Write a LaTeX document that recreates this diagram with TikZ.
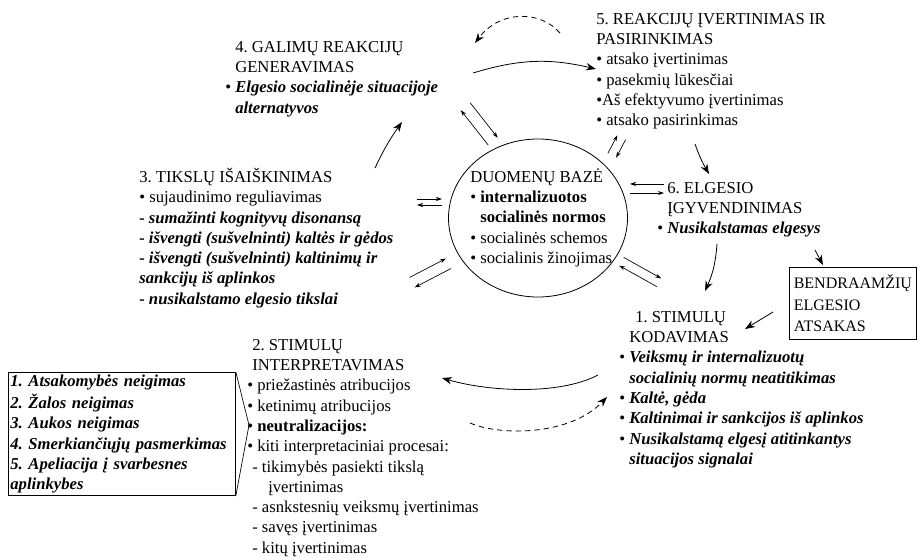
\documentclass[tikz,border=0pt]{standalone}
\usepackage{fontspec}
\setmainfont{Liberation Serif}
\usetikzlibrary{arrows.meta, shapes.geometric, calc}
\frenchspacing

\newcommand{\bul}{\textbullet\ }
\newcommand{\sk}{\hphantom{\textbullet\ }}
\newcommand{\bi}[1]{\textbf{\textit{#1}}}

\tikzset{
  txt/.style={anchor=north west, align=left, inner sep=0pt,
    font=\fontsize{12.5}{15.2}\selectfont},
  boxed/.style={txt, draw, line width=0.6pt},
  big/.style={-{Stealth[length=7.5pt,width=5.5pt]}, line width=0.6pt},
  small/.style={-{Stealth[length=4.5pt,width=3pt]}, line width=0.5pt},
  dsh/.style={dash pattern=on 4pt off 3pt},
}

% two opposite arrows between #1 and #2, #3 = half gap
\newcommand{\twoway}[3]{%
  \draw[small] ($(#1)!#3!90:(#2)$) -- ($(#2)!#3!-90:(#1)$);
  \draw[small] ($(#2)!#3!90:(#1)$) -- ($(#1)!#3!-90:(#2)$);}

\begin{document}
\begin{tikzpicture}[x=0.75pt, y=-0.75pt]
        \useasboundingbox (0, 0) rectangle (921, 557);

        % database in the middle
        \node[draw, ellipse, line width=0.6pt, minimum width=134.25pt, minimum height=118.5pt, inner sep=0pt] (db) at (538, 218) {};
        \node[txt] (dbtxt) at (470, 168) {\strut DUOMENŲ BAZĖ\\
          \bul\textbf{internalizuotos}\\
          \sk\textbf{socialinės normos}\\
          \bul socialinės schemos\\
          \bul socialinis žinojimas};

        % the six steps
        \node[txt] (b4) at (225, 38) {\strut\sk 4. GALIMŲ REAKCIJŲ\\
          \sk GENERAVIMAS\\
          \bul\bi{Elgesio socialinėje situacijoje}\\
          \sk\bi{alternatyvos}};
        \node[txt] (b5) at (596, 10) {\strut 5. REAKCIJŲ ĮVERTINIMAS IR\\
          PASIRINKIMAS\\
          \bul atsako įvertinimas\\
          \bul pasekmių lūkesčiai\\
          \textbullet Aš efektyvumo įvertinimas\\
          \bul atsako pasirinkimas};
        \node[txt] (b6) at (657, 179) {\strut\sk 6. ELGESIO\\
          \sk ĮGYVENDINIMAS\\
          \bul\bi{Nusikalstamas elgesys}};
        \node[txt] (b3) at (139, 168) {\strut 3. TIKSLŲ IŠAIŠKINIMAS\\
          \bul sujaudinimo reguliavimas\\
          \bi{- sumažinti kognityvų disonansą}\\
          \bi{- išvengti (sušvelninti) kaltės ir gėdos}\\
          \bi{- išvengti (sušvelninti) kaltinimų ir}\\
          \bi{sankcijų iš aplinkos}\\
          \bi{- nusikalstamo elgesio tikslai}};
        \node[txt] (b2) at (247, 336) {\strut\hspace*{3.75pt}2. STIMULŲ\\
          \hspace*{3.75pt}INTERPRETAVIMAS\\
          \bul priežastinės atribucijos\\
          \bul ketinimų atribucijos\\
          \bul\textbf{neutralizacijos:}\\
          \bul kiti interpretaciniai procesai:\\
          \hspace*{3.75pt}- tikimybės pasiekti tikslą\\
          \hspace*{15.75pt}įvertinimas\\
          \hspace*{3.75pt}- asnkstesnių veiksmų įvertinimas\\
          \hspace*{3.75pt}- savęs įvertinimas\\
          \hspace*{3.75pt}- kitų įvertinimas};
        \node[txt] (b1) at (619, 308) {\strut\hspace*{12pt}1. STIMULŲ\\
          \sk KODAVIMAS\\
          \bul\bi{Veiksmų ir internalizuotų}\\
          \sk\bi{socialinių normų neatitikimas}\\
          \bul\bi{Kaltė, gėda}\\
          \bul\bi{Kaltinimai ir sankcijos iš aplinkos}\\
          \bul\bi{Nusikalstamą elgesį atitinkantys}\\
          \sk\bi{situacijos signalai}};

        % boxes
        \node[boxed, font=\fontsize{12}{16.1}\selectfont, inner xsep=2pt, minimum width=95.25pt, minimum height=54pt] (peer) at (789, 267) {BENDRAAMŽIŲ\\ELGESIO\\ATSAKAS};
        \node[boxed, inner xsep=1.5pt, text width=167.25pt] (neut) at (8, 372) {\strut\bi{1. Atsakomybės neigimas}\\
          \bi{2. Žalos neigimas}\\
          \bi{3. Aukos neigimas}\\
          \bi{4. Smerkiančiųjų pasmerkimas}\\
          \bi{5. Apeliacija į svarbesnes}\\
          \bi{aplinkybes}\strut};

        \coordinate (apex) at (249, 425);
        \draw[line width=0.5pt] (neut.north east) -- (apex) -- (neut.south east);

        % arrows between the steps
        \coordinate (s34) at (375, 168);  \coordinate (e34) at (402, 122);
        \coordinate (s45) at (473, 73);   \coordinate (e45) at (596, 69);
        \coordinate (s54) at (560, 33);   \coordinate (e54) at (475, 43);
        \coordinate (s56) at (695, 144);  \coordinate (e56) at (709, 174);
        \coordinate (s61) at (717, 244);  \coordinate (e61) at (705, 291);
        \coordinate (s6p) at (815, 250);  \coordinate (e6p) at (823, 265);
        \coordinate (sp1) at (773, 312);  \coordinate (ep1) at (745, 329);
        \coordinate (s12) at (598, 375);  \coordinate (e12) at (442, 378);
        \coordinate (s21) at (470, 423);  \coordinate (e21) at (607, 397);

        \draw[big] (s34) to[bend left=5] (e34);
        \draw[big] (s45) to[bend left=15] (e45);
        \draw[big, dsh] (s54) .. controls (540, 10) and (500, 10) .. (e54);
        \draw[big] (s56) to[bend right=5] (e56);
        \draw[big] (s61) to[bend left=10] (e61);
        \draw[big] (s6p) -- (e6p);
        \draw[big] (sp1) -- (ep1);
        \draw[big] (s12) .. controls (560, 395) and (490, 392) .. (e12);
        \draw[big, dsh] (s21) .. controls (500, 436) and (570, 436) .. (e21);

        % arrows to and from the database
        \coordinate (d4) at (493, 141.5);   \coordinate (p4) at (465.5, 106.5);
        \coordinate (d5) at (612, 155.5);   \coordinate (p5) at (621.5, 137.5);
        \coordinate (d6) at (630, 188.5);   \coordinate (p6) at (664, 188.5);
        \coordinate (d1) at (621.5, 261.5); \coordinate (p1) at (659, 282.5);
        \coordinate (d3) at (442, 202);     \coordinate (p3) at (417, 202);
        \coordinate (d3b) at (448.5, 263.5); \coordinate (p3b) at (412, 282.5);

        \twoway{d4}{p4}{4.5pt}
        \twoway{d5}{p5}{3.5pt}
        \twoway{d6}{p6}{-3.4pt}
        \twoway{d1}{p1}{3.5pt}
        \twoway{d3}{p3}{2.25pt}
        \twoway{d3b}{p3b}{4.2pt}

\end{tikzpicture}
\end{document}
